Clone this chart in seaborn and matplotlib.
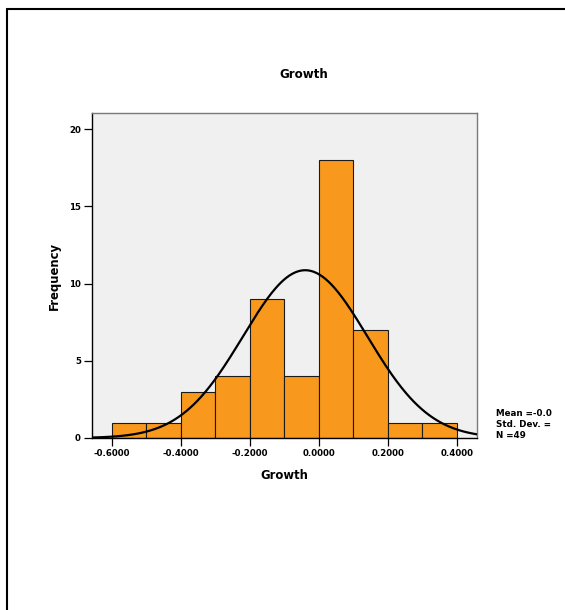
import numpy as np
import matplotlib
matplotlib.use("Agg")
import matplotlib.pyplot as plt
from matplotlib.lines import Line2D
import seaborn as sns

# Histogram of Growth: bin edges and frequencies per bin
bin_edges = [-0.6, -0.5, -0.4, -0.3, -0.2, -0.1, 0.0, 0.1, 0.2, 0.3, 0.4]
frequencies = [1, 1, 3, 4, 9, 4, 18, 7, 1, 1]

# Summary statistics of the variable (normal curve parameters)
stat_mean = -0.04
stat_std = 0.18
stat_n = 49

# Statistics box lines as printed beside the chart
stats_lines = ["Mean =-0.0", "Std. Dev. =", f"N ={stat_n}"]

x_ticks = [-0.6, -0.4, -0.2, 0.0, 0.2, 0.4]
x_tick_labels = ["-0.6000", "-0.4000", "-0.2000", "0.0000", "0.2000", "0.4000"]
y_ticks = [0, 5, 10, 15, 20]

sns.set_style("white")
plt.rcParams["font.family"] = ["DejaVu Sans"]
plt.rcParams["font.weight"] = "bold"
plt.rcParams["text.color"] = "black"
plt.rcParams["axes.labelcolor"] = "black"
plt.rcParams["xtick.color"] = "black"
plt.rcParams["ytick.color"] = "black"

fig = plt.figure(figsize=(5.65, 6.1), dpi=100)
ax = fig.add_axes([0.1628, 0.282, 0.6814, 0.5328])
ax.set_facecolor("#F0F0F0")

bin_mids = [(a + b) / 2 for a, b in zip(bin_edges[:-1], bin_edges[1:])]
sns.histplot(x=bin_mids, weights=frequencies, bins=bin_edges, ax=ax,
             color="#F8991D", alpha=1.0, edgecolor="#1a1a1a", linewidth=0.8,
             zorder=2)

# Normal curve scaled to counts
xs = np.linspace(-0.66, 0.46, 400)
bw = bin_edges[1] - bin_edges[0]
ys = stat_n * bw / (stat_std * np.sqrt(2 * np.pi)) * np.exp(-0.5 * ((xs - stat_mean) / stat_std) ** 2)
sns.lineplot(x=xs, y=ys, ax=ax, color="black", linewidth=1.6, zorder=3)

ax.set_xlim(-0.658, 0.458)
ax.set_ylim(0, 21.04)
ax.set_xticks(x_ticks)
ax.set_xticklabels(x_tick_labels)
ax.set_yticks(y_ticks)
ax.tick_params(axis="both", direction="out", length=6, width=0.9, pad=2,
               labelsize=6.2, color="black", labelcolor="black",
               bottom=True, left=True)
for lab in ax.get_xticklabels() + ax.get_yticklabels():
    lab.set_fontweight("bold")

for side in ["left", "bottom"]:
    ax.spines[side].set_color("black")
    ax.spines[side].set_linewidth(1.0)
for side in ["top", "right"]:
    ax.spines[side].set_visible(True)
    ax.spines[side].set_color("#7a7a7a")
    ax.spines[side].set_linewidth(1.0)

ax.set_xlabel("Growth", fontsize=8.4, fontweight="bold", labelpad=8)
ax.set_ylabel("Frequency", fontsize=8.4, fontweight="bold", labelpad=6)

fig.text(304 / 565, 1 - 74 / 610, "Growth", ha="center", va="center",
         fontsize=8.6, fontweight="bold")

for i, line in enumerate(stats_lines):
    fig.text(496 / 565, 1 - (413 + i * 11.5) / 610, line, ha="left", va="center",
             fontsize=6.3, fontweight="bold")

# Outer frame lines (top and left)
fig.add_artist(Line2D([7 / 565, 1.0], [1 - 9 / 610, 1 - 9 / 610],
                      transform=fig.transFigure, color="black", linewidth=1.5))
fig.add_artist(Line2D([7 / 565, 7 / 565], [0.0, 1 - 9 / 610],
                      transform=fig.transFigure, color="black", linewidth=1.5))

fig.savefig("out.png", dpi=100)
